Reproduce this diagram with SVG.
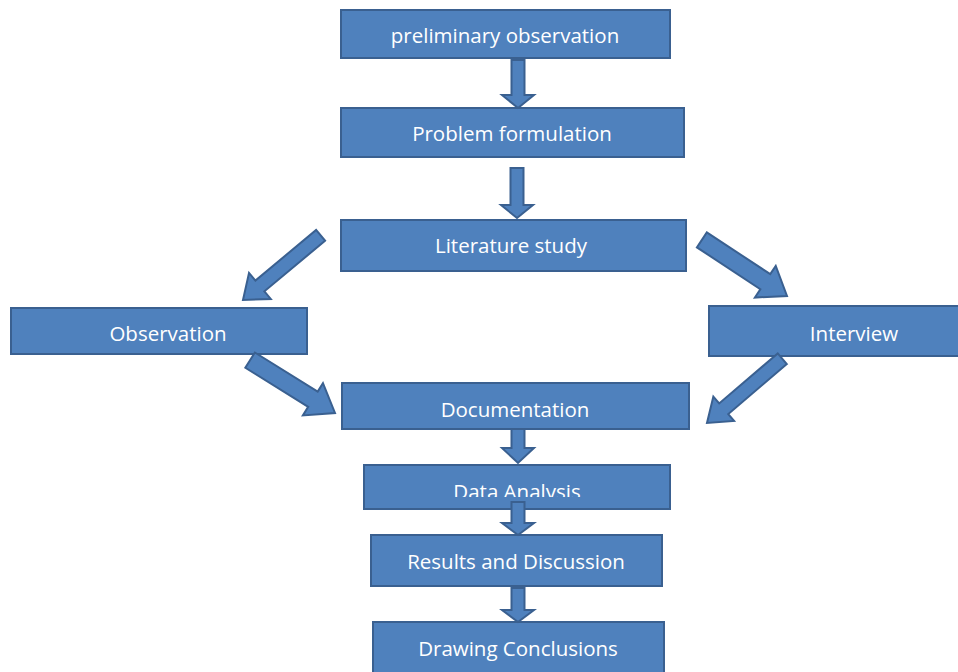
<svg xmlns="http://www.w3.org/2000/svg" width="958" height="672" viewBox="0 0 958 672">
<style>
.box{fill:#4f81bd;stroke:#3a6090;stroke-width:2}
.lbl{fill:#ffffff;font-family:"Open Sans","Noto Sans","Liberation Sans",sans-serif;font-size:20.5px;text-anchor:middle}
.arr{fill:#4f81bd;stroke:#3a6090;stroke-width:2;stroke-linejoin:miter}
</style>
<defs>
<clipPath id="daclip"><rect x="364" y="465" width="306" height="32"/></clipPath>
</defs>
<rect width="958" height="672" fill="#ffffff"/>
<g id="n1"><rect class="box" x="341" y="10" width="329" height="48"/><text class="lbl" x="505" y="43">preliminary observation</text></g>
<g id="n2"><rect class="box" x="341" y="108" width="343" height="49"/><text class="lbl" x="512" y="141">Problem formulation</text></g>
<g id="n3"><rect class="box" x="341" y="220" width="345" height="51"/><text class="lbl" x="511" y="253">Literature study</text></g>
<g id="n4"><rect class="box" x="11" y="308" width="296" height="46"/><text class="lbl" x="168" y="341">Observation</text></g>
<g id="n5"><rect class="box" x="709" y="306" width="260" height="50"/><text class="lbl" x="854" y="341">Interview</text></g>
<g id="n6"><rect class="box" x="342" y="383" width="347" height="46"/><text class="lbl" x="515" y="417">Documentation</text></g>
<g id="n7"><rect class="box" x="364" y="465" width="306" height="44"/><text class="lbl" x="517" y="499" clip-path="url(#daclip)">Data Analysis</text></g>
<g id="n8"><rect class="box" x="371" y="535" width="291" height="51"/><text class="lbl" x="516" y="569">Results and Discussion</text></g>
<g id="n9"><rect class="box" x="373" y="622" width="291" height="60"/><text class="lbl" x="518" y="656">Drawing Conclusions</text></g>
<g id="connectors">
<polygon class="arr" transform="translate(518,108) rotate(90)" points="-48,-6.5 -13,-6.5 -13,-16 0,0 -13,16 -13,6.5 -48,6.5"/>
<polygon class="arr" transform="translate(517,218) rotate(90)" points="-50,-6.5 -13,-6.5 -13,-16 0,0 -13,16 -13,6.5 -50,6.5"/>
<polygon class="arr" transform="translate(243,300) rotate(140.2)" points="-101,-7 -22,-7 -22,-17 0,0 -22,17 -22,7 -101,7"/>
<polygon class="arr" transform="translate(787,296) rotate(33.4)" points="-102,-9 -26,-9 -26,-19 0,0 -26,19 -26,9 -102,9"/>
<polygon class="arr" transform="translate(335,413) rotate(31.9)" points="-100,-9 -26,-9 -26,-19 0,0 -26,19 -26,9 -100,9"/>
<polygon class="arr" transform="translate(707,423) rotate(139.5)" points="-99,-7 -22,-7 -22,-16 0,0 -22,16 -22,7 -99,7"/>
<polygon class="arr" transform="translate(518,463) rotate(90)" points="-34,-6.5 -15,-6.5 -15,-16 0,0 -15,16 -15,6.5 -34,6.5"/>
<polygon class="arr" transform="translate(518,535) rotate(90)" points="-33,-6.5 -12,-6.5 -12,-16 0,0 -12,16 -12,6.5 -33,6.5"/>
<polygon class="arr" transform="translate(518,622) rotate(90)" points="-34,-6.5 -12,-6.5 -12,-16 0,0 -12,16 -12,6.5 -34,6.5"/>
</g>
</svg>
